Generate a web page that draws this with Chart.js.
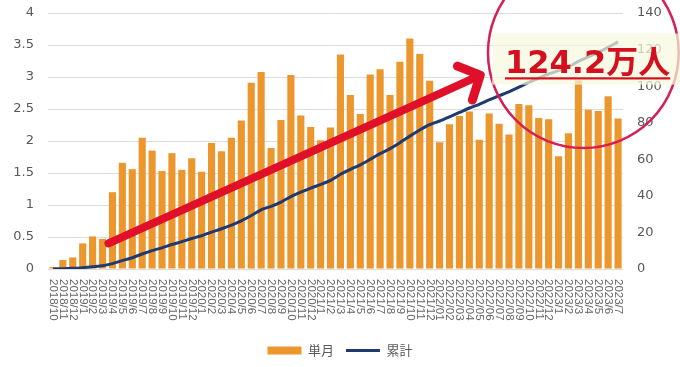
<!DOCTYPE html>
<html>
<head>
<meta charset="utf-8">
<script src="https://cdn.jsdelivr.net/npm/chart.js@4.4.0/dist/chart.umd.min.js"></script>
<style>
  body { margin: 0; background: #fff; }
  #wrap { width: 680px; height: 367px; }
</style>
</head>
<body>
<div id="wrap"><canvas id="myChart" width="680" height="367"></canvas></div>
<script>
// months 2018/10 .. 2023/7
const months = [
  '2018/10', '2018/11', '2018/12',
  '2019/1', '2019/2', '2019/3', '2019/4', '2019/5', '2019/6', '2019/7', '2019/8', '2019/9', '2019/10', '2019/11', '2019/12',
  '2020/1', '2020/2', '2020/3', '2020/4', '2020/5', '2020/6', '2020/7', '2020/8', '2020/9', '2020/10', '2020/11', '2020/12',
  '2021/1', '2021/2', '2021/3', '2021/4', '2021/5', '2021/6', '2021/7', '2021/8', '2021/9', '2021/10', '2021/11', '2021/12',
  '2022/01', '2022/02', '2022/03', '2022/04', '2022/05', '2022/06', '2022/07', '2022/08', '2022/09', '2022/10', '2022/11', '2022/12',
  '2023/1', '2023/2', '2023/3', '2023/4', '2023/5', '2023/6', '2023/7'
];
// 単月 (万人)
const monthly = [
  0.03, 0.14, 0.18,
  0.40, 0.51, 0.47, 1.20, 1.66, 1.56, 2.05, 1.85, 1.53, 1.81, 1.55, 1.73,
  1.52, 1.97, 1.84, 2.05, 2.32, 2.91, 3.08, 1.89, 2.33, 3.03, 2.40, 2.22,
  2.01, 2.21, 3.35, 2.72, 2.42, 3.04, 3.12, 2.72, 3.24, 3.60, 3.36, 2.94,
  1.98, 2.26, 2.39, 2.46, 2.02, 2.43, 2.27, 2.10, 2.58, 2.56, 2.36, 2.34,
  1.76, 2.12, 2.95, 2.49, 2.47, 2.70, 2.35
];
// 累計 (万人)
const cumulative = [
  0.03, 0.17, 0.35,
  0.75, 1.26, 1.73, 2.93, 4.59, 6.15, 8.20, 10.05, 11.58, 13.39, 14.94, 16.67,
  18.19, 20.16, 22.00, 24.05, 26.37, 29.28, 32.36, 34.25, 36.58, 39.61, 42.01, 44.23,
  46.24, 48.45, 51.80, 54.52, 56.94, 59.98, 63.10, 65.82, 69.06, 72.66, 76.02, 78.96,
  80.94, 83.20, 85.59, 88.05, 90.07, 92.50, 94.77, 96.87, 99.45, 102.01, 104.37, 106.71,
  108.47, 110.59, 113.54, 116.03, 118.50, 121.20, 124.2
];
const leftTicks = { min: 0, max: 4, step: 0.5 };
const rightTicks = { min: 0, max: 140, step: 20 };
const calloutText = '124.2万人';

// callout anchors in data units (category index, left-axis value)
const arrowTail = [5.6, 0.4];
const arrowTip = [43.1, 3.03];
const arrowArmUp = [40.8, 3.17];
const arrowArmDown = [42.3, 2.64];
const circleCenter = [53.5, 3.38];
const circleRadius = 1.49;
const boxFrom = [44.3, 3.68];
const boxTo = 2.88;
const textAt = [45.6, 3.06];
const underlineAt = 2.98;

// pull the plot top up to where the reference has it
const fixTop = {
  id: 'fixTop',
  afterLayout(chart) {
    const top = 13;
    chart.chartArea.top = top;
    chart.chartArea.height = chart.chartArea.bottom - top;
    ['y', 'y2'].forEach(id => {
      const s = chart.scales[id];
      s.top = top;
      s.height = s.bottom - top;
      s.configure();
      s._labelItems = null;
      s._gridLineItems = null;
    });
  }
};

const xLabelPlugin = {
  id: 'xlabels',
  afterDraw(chart) {
    const sx = chart.scales.x;
    const ctx = chart.ctx;
    ctx.save();
    ctx.font = '11.5px "Liberation Sans"';
    ctx.fillStyle = '#666666';
    ctx.textAlign = 'left';
    ctx.textBaseline = 'middle';
    months.forEach((m, i) => {
      ctx.save();
      ctx.translate(sx.getPixelForTick(i), sx.top + 10);
      ctx.rotate(Math.PI / 2);
      ctx.fillText(m, 0, 0);
      ctx.restore();
    });
    ctx.restore();
  }
};

const calloutPlugin = {
  id: 'callout',
  afterDraw(chart) {
    const sx = chart.scales.x, sy = chart.scales.y;
    const ctx = chart.ctx;
    const P = (a) => [sx.getPixelForValue(a[0]), sy.getPixelForValue(a[1])];
    ctx.save();

    // arrow
    const t = P(arrowTail), h = P(arrowTip), u = P(arrowArmUp), d = P(arrowArmDown);
    ctx.strokeStyle = '#E0102A';
    ctx.lineCap = 'round';
    ctx.lineJoin = 'round';
    ctx.lineWidth = 8;
    ctx.beginPath();
    ctx.moveTo(t[0], t[1]);
    ctx.lineTo(h[0] - 4, h[1] + 2);
    ctx.stroke();
    ctx.lineWidth = 9;
    ctx.beginPath();
    ctx.moveTo(u[0], u[1]);
    ctx.lineTo(h[0], h[1]);
    ctx.lineTo(d[0], d[1]);
    ctx.stroke();

    // circle
    const c = P(circleCenter);
    const r = sy.getPixelForValue(0) - sy.getPixelForValue(circleRadius);
    ctx.strokeStyle = '#D61F55';
    ctx.lineWidth = 2.5;
    ctx.beginPath();
    ctx.arc(c[0], c[1], r, 0, Math.PI * 2);
    ctx.stroke();

    // pale box
    const b0 = P(boxFrom);
    const b1 = sy.getPixelForValue(boxTo);
    ctx.fillStyle = 'rgba(247, 248, 222, 0.72)';
    ctx.fillRect(b0[0], b0[1], chart.width - b0[0], b1 - b0[1]);

    // text
    const tp = P(textAt);
    ctx.font = 'bold 32px "DejaVu Sans", "Noto Sans CJK JP"';
    ctx.fillStyle = '#D5101E';
    ctx.textAlign = 'left';
    ctx.textBaseline = 'alphabetic';
    ctx.fillText(calloutText, tp[0], tp[1]);
    const w = ctx.measureText(calloutText).width;
    const uy = sy.getPixelForValue(underlineAt);
    ctx.fillRect(tp[0], uy - 1, w, 2.2);
    ctx.restore();
  }
};

const ctx = document.getElementById('myChart').getContext('2d');
const chart = new Chart(ctx, {
  type: 'bar',
  data: {
    labels: months,
    datasets: [
      {
        type: 'bar',
        label: '単月',
        data: monthly,
        backgroundColor: '#EC962E',
        borderWidth: 0,
        categoryPercentage: 0.72,
        barPercentage: 1.0,
        yAxisID: 'y',
        order: 1,
        pointStyle: 'rect'
      },
      {
        type: 'line',
        label: '累計',
        data: cumulative,
        borderColor: '#1F3A6E',
        backgroundColor: '#1F3A6E',
        borderWidth: 3,
        pointRadius: 0,
        tension: 0.2,
        yAxisID: 'y2',
        order: 0,
        pointStyle: 'line'
      }
    ]
  },
  options: {
    responsive: false,
    animation: false,
    layout: { padding: { top: 13, bottom: 0, left: 0, right: 0 } },
    plugins: {
      tooltip: { enabled: false },
      legend: {
        position: 'bottom',
        labels: {
          usePointStyle: true,
          pointStyleWidth: 34,
          boxHeight: 8,
          padding: 12,
          color: '#595959',
          font: { size: 13, family: '"Noto Sans CJK JP"' },
          sort: (a, b) => a.datasetIndex - b.datasetIndex
        }
      }
    },
    scales: {
      x: {
        grid: { display: false },
        border: { display: false },
        ticks: { color: 'transparent', autoSkip: false, maxRotation: 90, minRotation: 90, font: { size: 12 } },
        afterFit(s) { s.height = 63; }
      },
      y: {
        position: 'left',
        min: leftTicks.min,
        max: leftTicks.max,
        grid: { color: '#dcdcdc', drawTicks: false },
        border: { display: false },
        ticks: {
          stepSize: leftTicks.step, padding: 14, color: '#595959',
          font: { size: 13, family: '"DejaVu Sans"' },
          callback: (v) => String(v)
        },
        afterFit(s) { s.width = 48; }
      },
      y2: {
        position: 'right',
        min: rightTicks.min,
        max: rightTicks.max,
        grid: { display: false, drawTicks: false },
        border: { display: false },
        ticks: { stepSize: rightTicks.step, padding: 14, color: '#595959', font: { size: 13, family: '"DejaVu Sans"' } },
        afterFit(s) { s.width = 57; }
      }
    }
  },
  plugins: [fixTop, xLabelPlugin, calloutPlugin]
});
</script>
</body>
</html>
